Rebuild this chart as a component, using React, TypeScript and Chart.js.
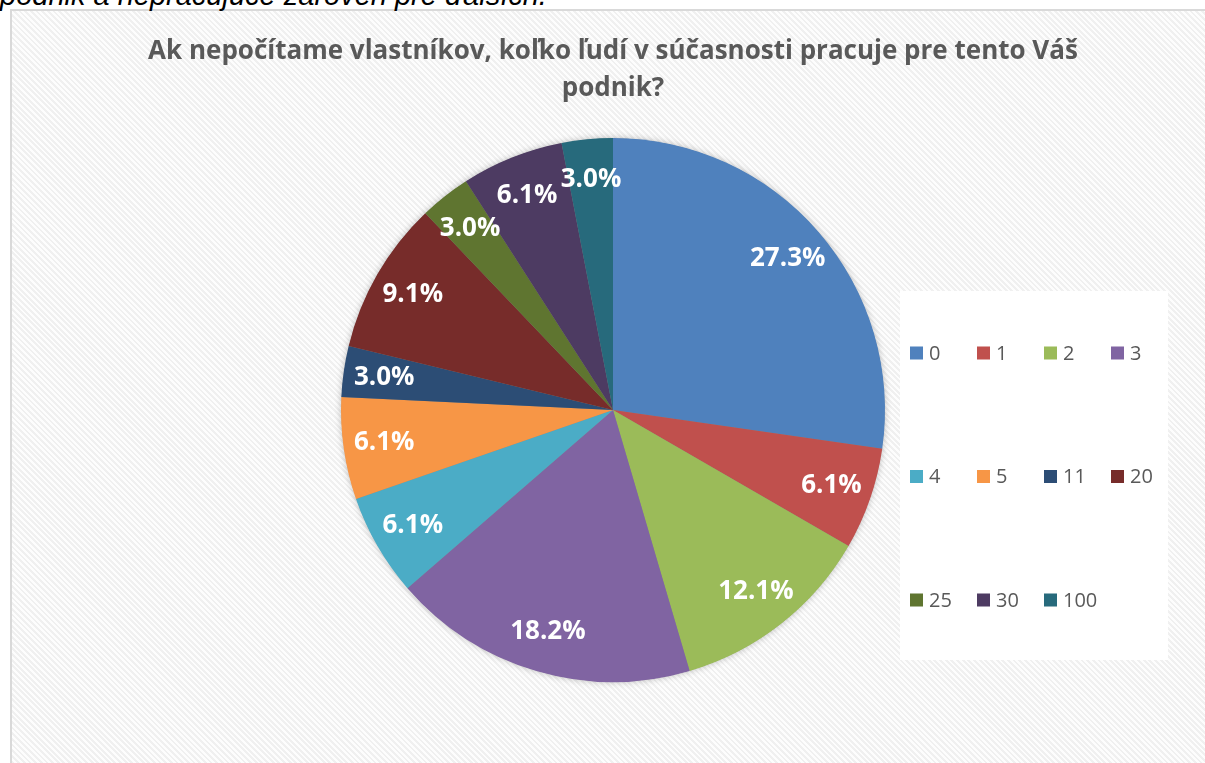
import React, { useEffect, useRef } from "react";
import { Chart, registerables } from "chart.js";

Chart.register(...registerables);

const categories = ["0", "1", "2", "3", "4", "5", "11", "20", "25", "30", "100"];
const counts = [9, 2, 4, 6, 2, 2, 1, 3, 1, 2, 1];
const sliceColors = [
  "#4F81BD",
  "#C0504D",
  "#9BBB59",
  "#8064A2",
  "#4BACC6",
  "#F79646",
  "#2C4D75",
  "#772C2A",
  "#5F7530",
  "#4D3B62",
  "#276A7C",
];
const titleLines = [
  "Ak nepočítame vlastníkov, koľko ľudí v súčasnosti pracuje pre tento Váš",
  "podnik?",
];
const aboveText = "podnik a nepracujúce zároveň pre ďalších.";

const shadowPlugin = {
  id: "pieShadow",
  beforeDatasetsDraw(chart: any) {
    const meta = chart.getDatasetMeta(0);
    const arc = meta.data[0];
    if (!arc) return;
    const { x, y, outerRadius } = arc.getProps(["x", "y", "outerRadius"], true);
    const ctx = chart.ctx;
    ctx.save();
    ctx.shadowColor = "rgba(0,0,0,0.28)";
    ctx.shadowBlur = 7;
    ctx.shadowOffsetX = 0;
    ctx.shadowOffsetY = 0;
    ctx.fillStyle = "#888888";
    ctx.beginPath();
    ctx.arc(x, y, outerRadius - 0.5, 0, Math.PI * 2);
    ctx.fill();
    ctx.restore();
  },
};

const labelPlugin = {
  id: "sliceLabels",
  afterDatasetsDraw(chart: any) {
    const ctx = chart.ctx;
    const data = chart.data.datasets[0].data as number[];
    const total = data.reduce((a, b) => a + b, 0);
    const meta = chart.getDatasetMeta(0);
    ctx.save();
    ctx.fillStyle = "#ffffff";
    ctx.font = "bold 26px 'Open Sans'";
    ctx.textAlign = "center";
    ctx.textBaseline = "middle";
    meta.data.forEach((arc: any, i: number) => {
      const { x, y, startAngle, endAngle, outerRadius } = arc.getProps(
        ["x", "y", "startAngle", "endAngle", "outerRadius"],
        true
      );
      const mid = (startAngle + endAngle) / 2;
      const r = outerRadius * 0.85;
      const txt = ((data[i] / total) * 100).toFixed(1) + "%";
      ctx.fillText(txt, x + Math.cos(mid) * r, y + Math.sin(mid) * r);
    });
    ctx.restore();
  },
};

const legendPlugin = {
  id: "gridLegend",
  afterDraw(chart: any) {
    const ctx = chart.ctx;
    const labels = chart.data.labels as string[];
    const colors = chart.data.datasets[0].backgroundColor as string[];
    ctx.save();
    ctx.fillStyle = "#ffffff";
    ctx.fillRect(900, 291, 268, 369);
    ctx.font = "20px 'Open Sans'";
    ctx.textBaseline = "middle";
    ctx.textAlign = "left";
    labels.forEach((lab, i) => {
      const col = i % 4;
      const row = Math.floor(i / 4);
      const sx = 910 + col * 67;
      const cy = 353 + row * 123.5;
      ctx.fillStyle = colors[i];
      ctx.fillRect(sx, cy - 6.5, 13, 13);
      ctx.fillStyle = "#595959";
      ctx.fillText(lab, sx + 19, cy + 1);
    });
    ctx.restore();
  },
};

export default function App() {
  const ref = useRef<HTMLCanvasElement | null>(null);
  useEffect(() => {
    if (!ref.current) return;
    const chart = new Chart(ref.current, {
      type: "pie",
      data: {
        labels: categories,
        datasets: [
          {
            data: counts,
            backgroundColor: sliceColors,
            borderWidth: 0,
          },
        ],
      },
      options: {
        animation: false,
        responsive: false,
        layout: { padding: { left: 21, right: 0, top: 0, bottom: 81 } },
        plugins: {
          legend: { display: false },
          tooltip: { enabled: false },
          title: {
            display: true,
            text: titleLines,
            color: "#595959",
            font: { family: "'Open Sans'", size: 26, weight: "bold", lineHeight: 1.42 },
            padding: { top: 33, bottom: 31.2 },
          },
        },
      },
      plugins: [shadowPlugin, labelPlugin, legendPlugin],
    });
    return () => chart.destroy();
  }, []);

  return (
    <div
      style={{
        position: "fixed",
        left: 0,
        top: 0,
        width: 1205,
        height: 763,
        overflow: "hidden",
        background: "#ffffff",
      }}
    >
      <div
        style={{
          position: "absolute",
          left: 10,
          top: 9,
          width: 1230,
          height: 800,
          borderLeft: "2px solid #d9d9d9",
          borderTop: "2px solid #d9d9d9",
          background:
            "repeating-linear-gradient(45deg, #fdfdfd 0px, #fdfdfd 2px, #f0f0f0 2px, #f0f0f0 4px)",
        }}
      />
      <div
        style={{
          position: "absolute",
          left: 0,
          top: -21,
          fontFamily: "'Liberation Sans', sans-serif",
          fontStyle: "italic",
          fontSize: 29,
          lineHeight: "32px",
          color: "#000000",
          whiteSpace: "nowrap",
        }}
      >
        {aboveText}
      </div>
      <canvas
        ref={ref}
        width={1205}
        height={763}
        style={{ position: "absolute", left: 0, top: 0, width: 1205, height: 763 }}
      />
    </div>
  );
}
